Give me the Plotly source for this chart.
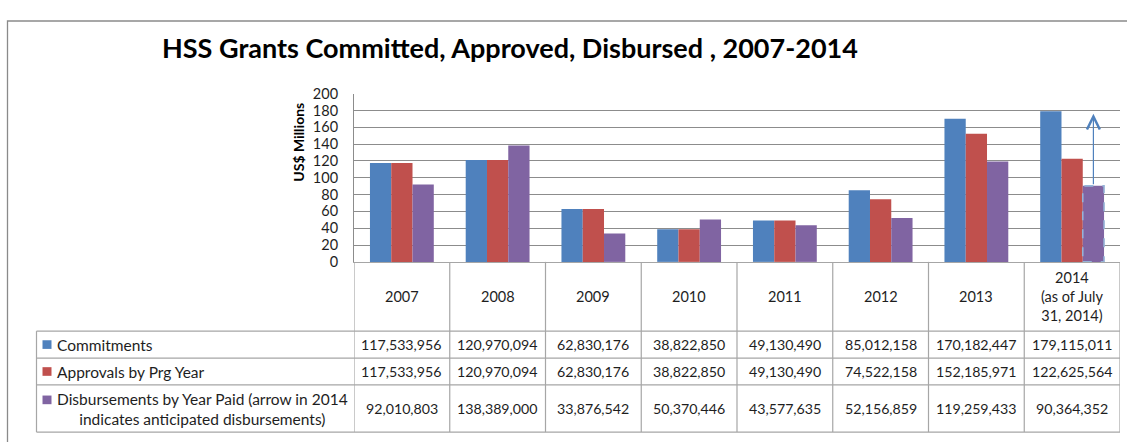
import plotly.graph_objects as go

# ---------------- data ----------------
categories = ["2007", "2008", "2009", "2010", "2011", "2012", "2013", "2014"]
category_labels = ["2007", "2008", "2009", "2010", "2011", "2012", "2013",
                   "2014<br>(as of July<br>31, 2014)"]
series_names = ["Commitments", "Approvals by Prg Year",
                "Disbursements by Year Paid (arrow in 2014<br>indicates anticipated disbursements)"]
commitments = [117533956, 120970094, 62830176, 38822850, 49130490, 85012158, 170182447, 179115011]
approvals = [117533956, 120970094, 62830176, 38822850, 49130490, 74522158, 152185971, 122625564]
disbursements = [92010803, 138389000, 33876542, 50370446, 43577635, 52156859, 119259433, 90364352]
anticipated_2014_millions = 176
y_ticks = [0, 20, 40, 60, 80, 100, 120, 140, 160, 180, 200]

title = "HSS Grants Committed, Approved, Disbursed , 2007-2014"
y_title = "US$ Millions"
colors = ["#4F81BD", "#C0504D", "#8064A2"]

# ---------------- layout helpers ----------------
W, H = 1127, 442
FONT = "Lato"
TXT = "#1e1e1e"
GRID = "#8c8c8c"
TLINE = "#a6a6a6"


def px(x):
    return x / W


def py(y):
    return 1 - y / H


x_idx = list(range(len(categories)))
series = [commitments, approvals, disbursements]

fig = go.Figure()
for name, vals, col in zip(series_names, series, colors):
    fig.add_trace(go.Bar(
        x=x_idx, y=[v / 1e6 for v in vals], name=name,
        marker=dict(color=col, line=dict(width=0)),
        hoverinfo="skip",
    ))

PLOT_L, PLOT_R, PLOT_T, PLOT_B = 354, 1120, 88, 263
ROW_LINES = [335, 363, 391, 440]
TABLE_L = 36.5

shapes = []
# outer chart frame
shapes.append(dict(type="rect", xref="paper", yref="paper",
                   x0=px(7.5), x1=px(W + 20), y0=py(H + 20), y1=py(12.5),
                   line=dict(color="#8a8a8a", width=1.3), layer="below"))
# column separators in table (category boundaries)
for i in range(len(categories) + 1):
    shapes.append(dict(type="line", xref="x", yref="paper",
                       x0=i - 0.5, x1=i - 0.5, y0=py(PLOT_B), y1=py(ROW_LINES[-1]),
                       line=dict(color=TLINE, width=1.2)))
# left table border
shapes.append(dict(type="line", xref="paper", yref="paper",
                   x0=px(TABLE_L), x1=px(TABLE_L), y0=py(ROW_LINES[0]), y1=py(ROW_LINES[-1]),
                   line=dict(color=TLINE, width=1.2)))
# horizontal table lines
for yl in ROW_LINES:
    shapes.append(dict(type="line", xref="paper", yref="paper",
                       x0=px(TABLE_L), x1=px(PLOT_R), y0=py(yl), y1=py(yl),
                       line=dict(color=TLINE, width=1.2)))

# dashed outline on the 2014 disbursement bar (third bar of the last group)
n_series = len(series)
bargap = 1 / 3
bw = (1 - bargap) / n_series
last = len(categories) - 1
bx0 = last - (1 - bargap) / 2 + 2 * bw
bx1 = bx0 + bw
shapes.append(dict(type="rect", xref="x", yref="y",
                   x0=bx0, x1=bx1, y0=0, y1=disbursements[-1] / 1e6,
                   line=dict(color="#95B3D7", width=1.6, dash="dash")))

annotations = []
# title
annotations.append(dict(text="<b>" + title + "</b>", xref="paper", yref="paper",
                        x=px(510), y=py(40), xanchor="center", yanchor="middle",
                        showarrow=False, font=dict(family=FONT, size=27, color="#000000")))
# y-axis title
annotations.append(dict(text="<b>" + y_title + "</b>", xref="paper", yref="paper",
                        x=px(299), y=py(139), xanchor="center", yanchor="middle",
                        textangle=-90, showarrow=False,
                        font=dict(family=FONT, size=14, color="#000000")))
# anticipated disbursement arrow
annotations.append(dict(x=(bx0 + bx1) / 2, y=anticipated_2014_millions,
                        ax=(bx0 + bx1) / 2, ay=disbursements[-1] / 1e6,
                        xref="x", yref="y", axref="x", ayref="y",
                        showarrow=True, arrowhead=5, arrowsize=2.1, arrowwidth=1.2,
                        arrowcolor="#4F81BD", text=""))
# category header row
for i, lab in enumerate(category_labels):
    annotations.append(dict(text=lab, xref="x", yref="paper", x=i, y=py(299),
                            xanchor="center", yanchor="middle", showarrow=False,
                            align="center",
                            font=dict(family=FONT, size=14.5, color=TXT)))
# table rows
row_centers = [349, 377, 415.5]
for r, (name, vals, col) in enumerate(zip(series_names, series, colors)):
    yc = row_centers[r]
    # legend key
    shift = 9 if r == 2 else 0
    shapes.append(dict(type="rect", xref="paper", yref="paper",
                       x0=px(42.5), x1=px(51.5),
                       y0=py(yc - 4.5 - shift), y1=py(yc + 4.5 - shift),
                       fillcolor=col, line=dict(width=0)))
    annotations.append(dict(text=name, xref="paper", yref="paper",
                            x=px(55), y=py(yc), xanchor="left", yanchor="middle",
                            align="center", showarrow=False,
                            font=dict(family=FONT, size=15.5, color=TXT)))
    for i, v in enumerate(vals):
        annotations.append(dict(text=f"{v:,}", xref="x", yref="paper", x=i, y=py(yc),
                                xanchor="center", yanchor="middle", showarrow=False,
                                font=dict(family=FONT, size=14.2, color=TXT)))

fig.update_layout(
    width=W, height=H,
    margin=dict(l=0, r=0, t=0, b=0),
    paper_bgcolor="white", plot_bgcolor="white",
    barmode="group", bargap=bargap, bargroupgap=0,
    showlegend=False,
    shapes=shapes, annotations=annotations,
    xaxis=dict(domain=[px(PLOT_L), px(PLOT_R)], range=[-0.5, len(categories) - 0.5],
               showticklabels=False, ticks="", showgrid=False, zeroline=False,
               showline=True, linecolor=TLINE, linewidth=1.2, fixedrange=True),
    yaxis=dict(domain=[py(PLOT_B), py(PLOT_T)], range=[0, 200], tickvals=y_ticks,
               showgrid=True, gridcolor=GRID, gridwidth=1, zeroline=False,
               showline=True, linecolor=GRID, linewidth=1,
               ticks="", ticklabelstandoff=12,
               tickfont=dict(family=FONT, size=14.5, color=TXT), fixedrange=True),
)

fig.write_html("out.html", config={"displayModeBar": False},
               post_script="document.body.style.margin='0';document.body.style.overflow='hidden';")
